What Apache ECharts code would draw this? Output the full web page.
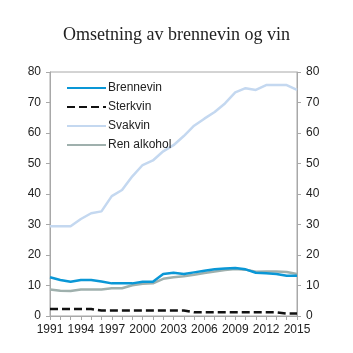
<!DOCTYPE html>
<html>
<head>
<meta charset="utf-8">
<script src="https://cdn.jsdelivr.net/npm/echarts@6/dist/echarts.min.js"></script>
<style>
html,body{margin:0;padding:0;background:#fff;}
#chart{width:353px;height:353px;}
</style>
</head>
<body>
<div id="chart"></div>
<script>
/*data*/
var years = [];
for (var y = 1991; y <= 2015; y++) { years.push(String(y)); }
var brennevin = [12.7, 11.8, 11.2, 11.8, 11.8, 11.3, 10.7, 10.7, 10.7, 11.2, 11.2, 13.8, 14.2, 13.8, 14.3, 14.8, 15.3, 15.6, 15.7, 15.3, 14.2, 14.0, 13.8, 13.2, 13.2];
var sterkvin = [2.3, 2.3, 2.3, 2.3, 2.3, 1.8, 1.8, 1.8, 1.8, 1.8, 1.8, 1.8, 1.8, 1.8, 1.2, 1.2, 1.2, 1.2, 1.2, 1.2, 1.2, 1.2, 1.2, 0.8, 0.8];
var svakvin = [29.4, 29.4, 29.4, 31.8, 33.7, 34.3, 39.3, 41.3, 45.8, 49.5, 51.0, 54.0, 56.0, 59.0, 62.4, 64.7, 66.9, 69.7, 73.3, 74.7, 74.1, 75.7, 75.7, 75.7, 74.1];
var renAlkohol = [8.7, 8.3, 8.2, 8.7, 8.7, 8.7, 9.1, 9.1, 10.1, 10.6, 10.7, 12.2, 12.7, 13.0, 13.5, 14.1, 14.6, 15.1, 15.4, 15.2, 14.5, 14.6, 14.6, 14.4, 13.8];

var chart = echarts.init(document.getElementById('chart'));
var axisGray = '#a8a8a8';
var txt = '#222';

function yAxis(pos) {
    return {
        type: 'value',
        position: pos,
        min: 0,
        max: 80,
        interval: 10,
        axisLine: { show: true, lineStyle: { color: axisGray, width: 1 } },
        axisTick: { show: true, length: 4, lineStyle: { color: axisGray } },
        axisLabel: { color: txt, fontFamily: 'Liberation Sans', fontSize: 12, margin: 9 },
        splitLine: { show: false }
    };
}

function line(name, data, color, width, type) {
    return {
        name: name,
        type: 'line',
        data: data,
        symbol: 'none',
        smooth: false,
        yAxisIndex: 0,
        lineStyle: { color: color, width: width, type: type || 'solid' },
        itemStyle: { color: color }
    };
}

var option = {
    backgroundColor: '#fff',
    animation: false,
    title: {
        text: 'Omsetning av brennevin og vin',
        left: 'center',
        top: 21,
        textStyle: { fontFamily: 'Liberation Serif', fontSize: 18, fontWeight: 'normal', color: txt }
    },
    legend: {
        orient: 'vertical',
        left: 61,
        top: 77,
        itemWidth: 39,
        itemHeight: 14,
        itemGap: 7,
        itemStyle: { opacity: 0 },
        textStyle: { fontFamily: 'Liberation Sans', fontSize: 12, color: txt, padding: [0, 0, 0, -3] },
        data: ['Brennevin', 'Sterkvin', 'Svakvin', 'Ren alkohol']
    },
    grid: {
        left: 50,
        right: 56,
        top: 72,
        bottom: 37,
        show: true,
        borderColor: axisGray,
        borderWidth: 1
    },
    xAxis: {
        type: 'category',
        data: years,
        boundaryGap: false,
        axisLine: { lineStyle: { color: axisGray } },
        axisTick: { show: true, interval: 0, length: 4, lineStyle: { color: axisGray } },
        axisLabel: { interval: 2, color: txt, fontFamily: 'Liberation Sans', fontSize: 12, margin: 8 }
    },
    yAxis: [yAxis('left'), yAxis('right')],
    series: [
        line('Svakvin', svakvin, '#c4d8f0', 2.5),
        line('Ren alkohol', renAlkohol, '#9fb0ad', 2.5),
        line('Brennevin', brennevin, '#0a97d6', 2.5),
        line('Sterkvin', sterkvin, '#111', 2.5, [8, 4])
    ]
};
chart.setOption(option);
</script>
</body>
</html>
